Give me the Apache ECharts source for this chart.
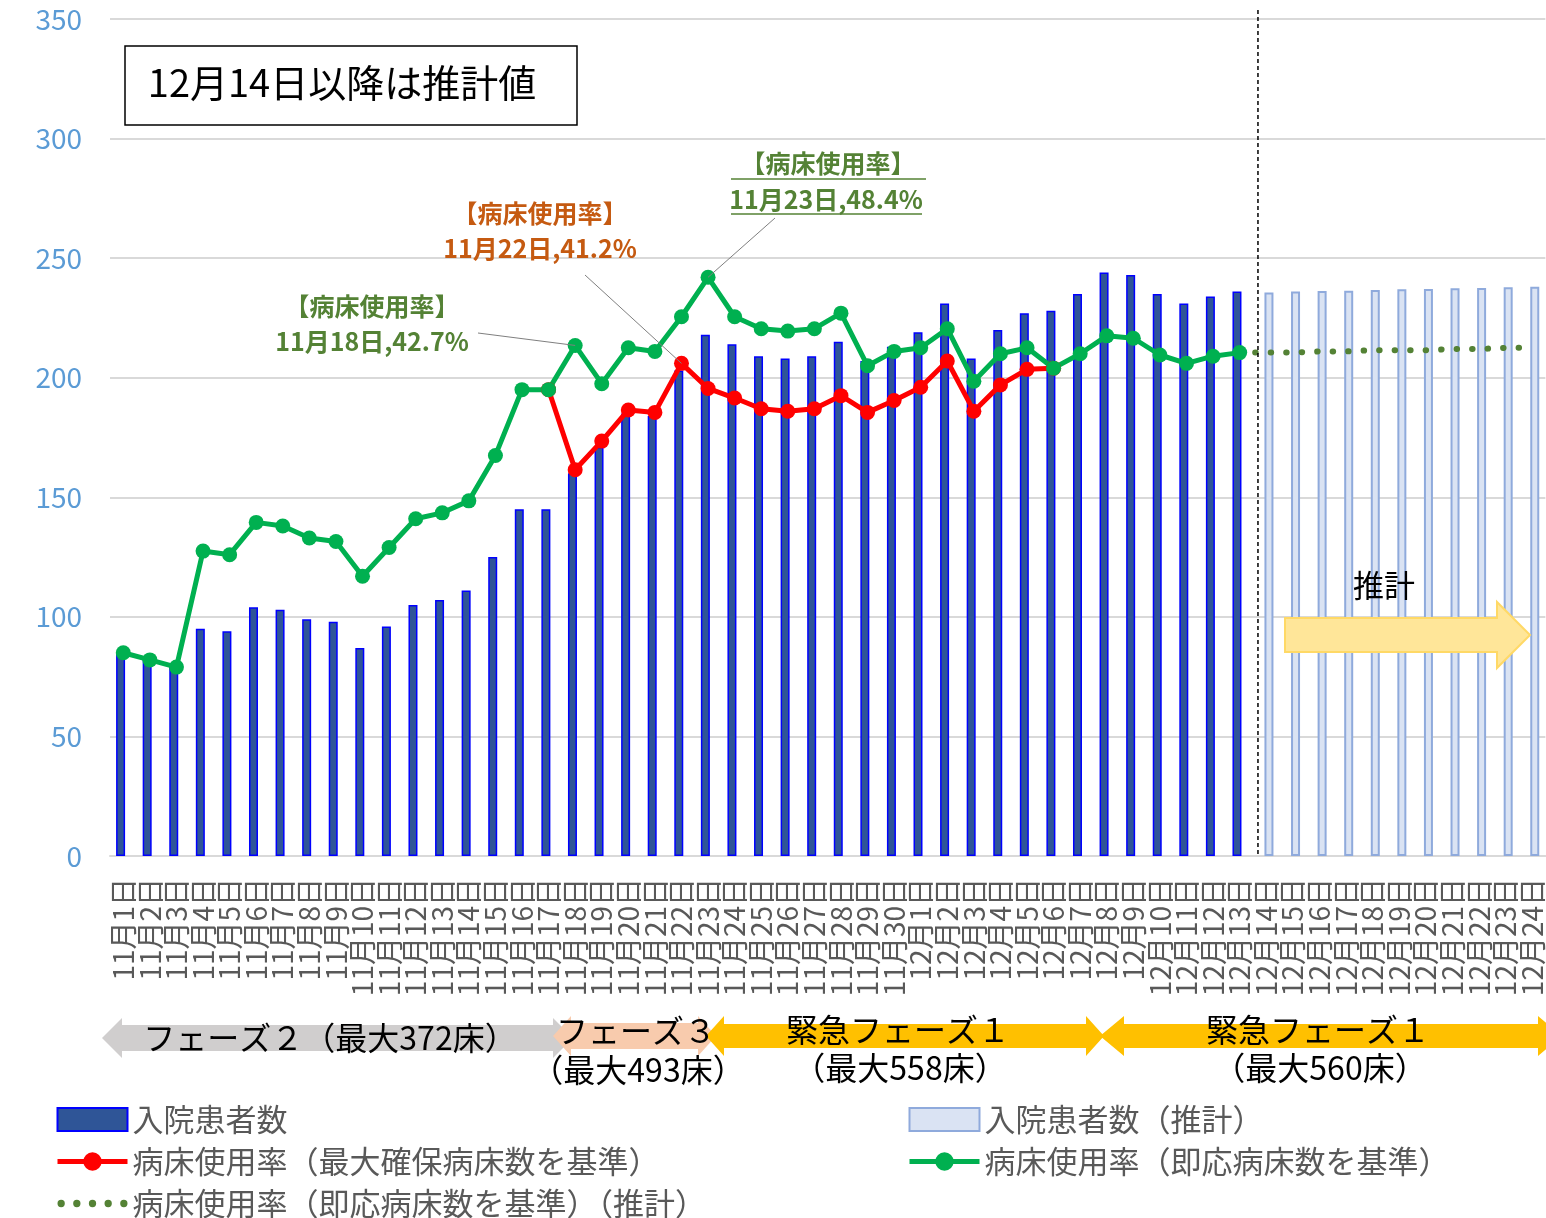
<!DOCTYPE html>
<html>
<head>
<meta charset="utf-8">
<script src="https://cdn.jsdelivr.net/npm/echarts@6/dist/echarts.min.js"></script>
<style>
  html, body { margin: 0; padding: 0; background: #fff; overflow: hidden; }
  #chart { width: 1546px; height: 1250px; }
</style>
</head>
<body>
<div id="chart"></div>
<script>
// categories
const dates = [
  '11月1日','11月2日','11月3日','11月4日','11月5日','11月6日','11月7日','11月8日','11月9日','11月10日',
  '11月11日','11月12日','11月13日','11月14日','11月15日','11月16日','11月17日','11月18日','11月19日','11月20日',
  '11月21日','11月22日','11月23日','11月24日','11月25日','11月26日','11月27日','11月28日','11月29日','11月30日',
  '12月1日','12月2日','12月3日','12月4日','12月5日','12月6日','12月7日','12月8日','12月9日','12月10日',
  '12月11日','12月12日','12月13日','12月14日','12月15日','12月16日','12月17日','12月18日','12月19日','12月20日',
  '12月21日','12月22日','12月23日','12月24日'
];
// 入院患者数 11/1 - 12/13
const inpatients = [85, 82, 79, 95, 94, 104, 103, 99, 98, 87,
  96, 105, 107, 111, 125, 145, 145, 160, 171, 185,
  184, 203, 218, 214, 209, 208, 209, 215, 207, 213,
  219, 231, 208, 220, 227, 228, 235, 244, 243, 235, 231, 234, 236];
// 入院患者数（推計） 12/14 - 12/24
const inpatientsEst = [235.6, 236, 236.3, 236.4, 236.7, 237, 237.1, 237.4, 237.5, 237.8, 238];
// 病床使用率（最大確保病床数を基準） % , 11/17 - 12/6
const rateMax = [39.0, 32.3, 34.7, 37.3, 37.1, 41.2, 39.1, 38.3, 37.4, 37.2,
  37.4, 38.5, 37.1, 38.1, 39.2, 41.4, 37.2, 39.4, 40.7, 40.8];
// 病床使用率（即応病床数を基準） % , 11/1 - 12/13
const rateReady = [17.0, 16.4, 15.8, 25.5, 25.2, 27.9, 27.6, 26.6, 26.3, 23.4,
  25.8, 28.2, 28.7, 29.7, 33.5, 39.0, 39.0, 42.7, 39.5, 42.5,
  42.2, 45.1, 48.4, 45.1, 44.1, 43.9, 44.1, 45.4, 41.0, 42.2,
  42.5, 44.1, 39.7, 42.0, 42.5, 40.8, 42.0, 43.5, 43.3, 41.9, 41.2, 41.8, 42.1];
// 病床使用率（即応病床数を基準）（推計） % , 12/13 - 12/24
const rateReadyEst = [42.1, 42.1, 42.1, 42.2, 42.2, 42.3, 42.3, 42.3, 42.4, 42.4, 42.5, 42.5];
const yTicks = [0, 50, 100, 150, 200, 250, 300, 350];

const FONT = '"Noto Sans CJK JP", "Noto Sans", sans-serif';
// five dots for the dotted legend icon
const DOTS = 'path://' + [0, 15, 30, 45, 60].map(x =>
  'M' + x + ',3.5a3.5,3.5 0 1,0 7,0a3.5,3.5 0 1,0 -7,0').join('');

function pad(arr, start) {
  const out = dates.map(() => null);
  arr.forEach((v, i) => { out[start + i] = v; });
  return out;
}

const chart = echarts.init(document.getElementById('chart'));

const legendText = { fontSize: 31, color: '#595959', fontFamily: FONT, lineHeight: 30 };
const option = {
  animation: false,
  backgroundColor: '#fff',
  textStyle: { fontFamily: FONT },
  grid: { left: 110, top: 19, width: 1442, height: 837 },
  legend: [{
    left: 50, top: 1099, orient: 'vertical', height: 140,
    itemWidth: 70, itemHeight: 23, itemGap: 11,
    lineStyle: { width: 5 },
    textStyle: legendText,
    data: [{ name: '入院患者数', icon: 'rect' }, '病床使用率（最大確保病床数を基準）',
      { name: '病床使用率（即応病床数を基準）（推計）', icon: DOTS }]
  }, {
    left: 902, top: 1099, orient: 'vertical', height: 140,
    itemWidth: 70, itemHeight: 23, itemGap: 11,
    lineStyle: { width: 5 },
    textStyle: legendText,
    data: [{ name: '入院患者数（推計）', icon: 'rect' }, '病床使用率（即応病床数を基準）']
  }],
  xAxis: {
    type: 'category',
    data: dates,
    axisTick: { show: false },
    axisLine: { lineStyle: { color: '#D9D9D9', width: 2 } },
    axisLabel: { interval: 0, rotate: 90, fontSize: 28, color: '#595959', margin: 22, fontFamily: FONT }
  },
  yAxis: [{
    type: 'value', min: yTicks[0], max: yTicks[yTicks.length - 1], interval: 50,
    axisLine: { show: false }, axisTick: { show: false },
    axisLabel: { fontSize: 28, color: '#5B9BD5', margin: 28, fontFamily: FONT },
    splitLine: { lineStyle: { color: '#D9D9D9', width: 2 } }
  }, {
    type: 'value', min: 0, max: 70, show: false, splitLine: { show: false }
  }],
  series: [{
    name: '入院患者数', type: 'bar',
    data: pad(inpatients, 0),
    barWidth: 9, barGap: '-40%',
    itemStyle: { color: '#2F5597', borderColor: '#0000FF', borderWidth: 1.5 }
  }, {
    name: '入院患者数（推計）', type: 'bar',
    data: pad(inpatientsEst, 43),
    barWidth: 9,
    itemStyle: { color: '#DAE3F3', borderColor: '#8FAADC', borderWidth: 2 }
  }, {
    name: '病床使用率（最大確保病床数を基準）', type: 'line', yAxisIndex: 1,
    data: pad(rateMax, 16),
    symbol: 'circle', symbolSize: 15,
    lineStyle: { color: '#FF0000', width: 5 },
    itemStyle: { color: '#FF0000' }
  }, {
    name: '病床使用率（即応病床数を基準）', type: 'line', yAxisIndex: 1,
    data: pad(rateReady, 0),
    symbol: 'circle', symbolSize: 15,
    lineStyle: { color: '#00B050', width: 5 },
    itemStyle: { color: '#00B050' }
  }, {
    name: '病床使用率（即応病床数を基準）（推計）', type: 'line', yAxisIndex: 1,
    data: pad(rateReadyEst, 42),
    symbol: 'none',
    lineStyle: { color: '#548235', width: 6, type: [0.5, 15], cap: 'round' },
    itemStyle: { color: '#548235' }
  }]
};
chart.setOption(option);

// annotations
const px = (si, idx, v) => chart.convertToPixel({ seriesIndex: si }, [idx, v]);
const p18 = px(3, 17, rateReady[17]);
const p22 = px(2, 21, rateMax[5]);
const p23 = px(3, 22, rateReady[22]);
const xA = px(0, 42, 0), xB = px(0, 43, 0);
const splitX = (xA[0] + xB[0]) / 2 + 5;

function txt(x, y, text, size, color, weight) {
  return {
    type: 'text', x: x, y: y, z: 100,
    style: {
      text: text, fill: color, align: 'center', verticalAlign: 'middle',
      font: (weight || 'normal') + ' ' + size + 'px ' + FONT
    }
  };
}
function line(x1, y1, x2, y2, color, w, dash) {
  return {
    type: 'line', z: 90,
    shape: { x1: x1, y1: y1, x2: x2, y2: y2 },
    style: { stroke: color, lineWidth: w, lineDash: dash || null }
  };
}
function dblArrow(L, R, c, h, b, k, color) {
  return {
    type: 'polygon', z: 80,
    shape: { points: [[L, c], [L + k, c - h], [L + k, c - b], [R - k, c - b], [R - k, c - h], [R, c],
      [R - k, c + h], [R - k, c + b], [L + k, c + b], [L + k, c + h]] },
    style: { fill: color }
  };
}

chart.setOption({
  graphic: [
    line(splitX, 10, splitX, xA[1], '#000', 1.5, [4, 3]),
    { type: 'rect', z: 80, shape: { x: 125, y: 46, width: 452, height: 79 },
      style: { fill: '#fff', stroke: '#000', lineWidth: 1.5 } },
    txt(342, 83, '12月14日以降は推計値', 38, '#000'),

    line(478, 333, p18[0], p18[1], '#7F7F7F', 1),
    txt(372, 306, '【病床使用率】', 25, '#548235', 'bold'),
    txt(372, 341, '11月18日,42.7%', 25, '#548235', 'bold'),

    line(585, 275, p22[0], p22[1], '#7F7F7F', 1),
    txt(540, 213, '【病床使用率】', 25, '#C55A11', 'bold'),
    txt(540, 248, '11月22日,41.2%', 25, '#C55A11', 'bold'),

    line(775, 218, p23[0], p23[1], '#7F7F7F', 1),
    txt(828, 163, '【病床使用率】', 25, '#548235', 'bold'),
    txt(826, 199, '11月23日,48.4%', 25, '#548235', 'bold'),
    line(731, 179, 926, 179, '#548235', 1.5),
    line(731, 214, 922, 214, '#548235', 1.5),

    { type: 'polygon', z: 80,
      shape: { points: [[1285, 618], [1497, 618], [1497, 602], [1530, 635], [1497, 668], [1497, 652], [1285, 652]] },
      style: { fill: '#FFE699', stroke: '#FFD966', lineWidth: 2 } },
    txt(1384, 585, '推計', 31, '#000'),

    dblArrow(102, 573, 1038, 20, 13, 20, '#D0CECE'),
    dblArrow(553, 716, 1036, 20, 13, 18, '#F8CBAD'),
    dblArrow(706, 1104, 1036, 20, 12, 18, '#FFC000'),
    dblArrow(1100, 1562, 1036, 20, 12, 24, '#FFC000'),
    txt(330, 1038, 'フェーズ２（最大372床）', 32, '#000'),
    txt(636, 1031, 'フェーズ３', 32, '#000'),
    txt(638, 1070, '（最大493床）', 32, '#000'),
    txt(898, 1030, '緊急フェーズ１', 32, '#000'),
    txt(900, 1068, '（最大558床）', 32, '#000'),
    txt(1318, 1030, '緊急フェーズ１', 32, '#000'),
    txt(1320, 1068, '（最大560床）', 32, '#000')
  ]
});
</script>
</body>
</html>
